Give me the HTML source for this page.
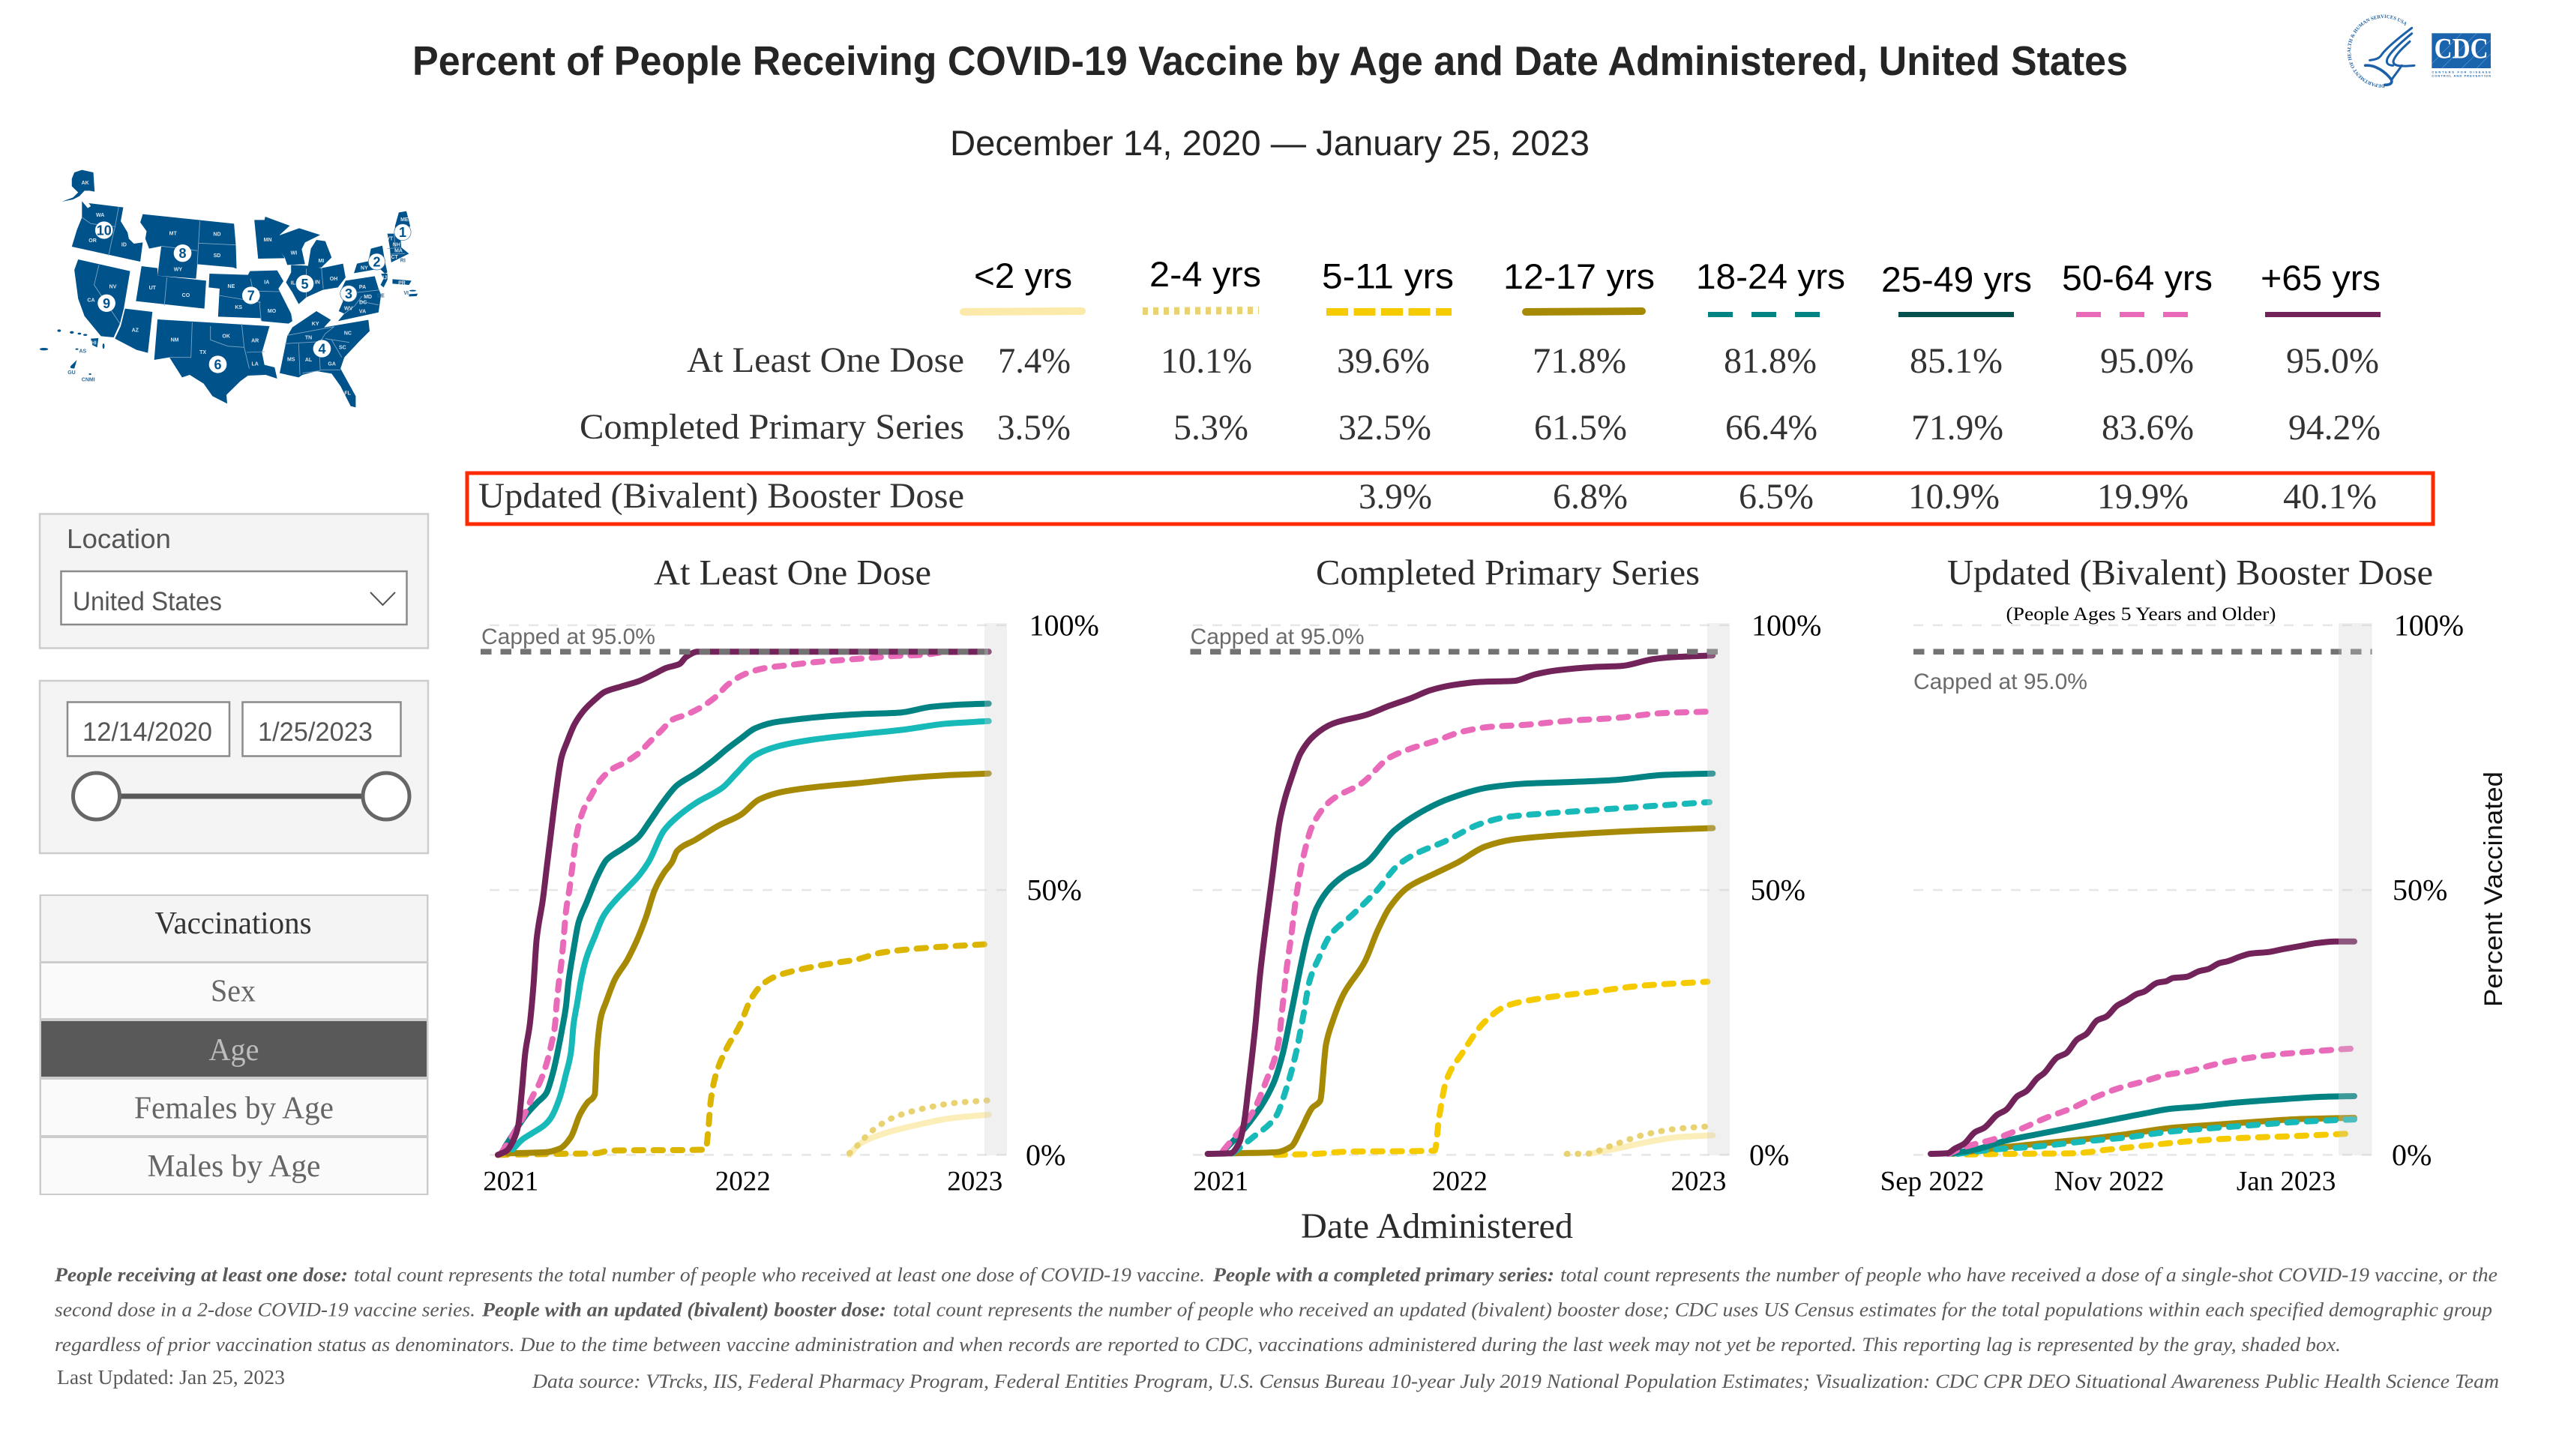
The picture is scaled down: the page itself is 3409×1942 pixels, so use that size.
<!DOCTYPE html>
<html lang="en">
<head>
<meta charset="utf-8">
<title>Percent of People Receiving COVID-19 Vaccine by Age and Date Administered, United States</title>
<style>
html,body{margin:0;padding:0;background:#fff;width:3409px;height:1942px;overflow:hidden}
svg{display:block}
text{white-space:pre}
.sans{font-family:"Liberation Sans",sans-serif}
.serif{font-family:"Liberation Serif",serif}
.val{font-family:"Liberation Serif",serif;font-size:48px;fill:#333}
.leg{font-family:"Liberation Sans",sans-serif;font-size:47px;fill:#000}
.foot{font-family:"Liberation Serif",serif;font-size:26px;fill:#595959;font-style:italic}
.footb{font-family:"Liberation Serif",serif;font-size:26px;fill:#595959;font-style:italic;font-weight:bold}
.ctitle{font-family:"Liberation Serif",serif;font-size:48px;fill:#2b2b2b}
.tab{font-family:"Liberation Serif",serif;font-size:42px;fill:#666}
</style>
</head>
<body>
<svg id="root" xmlns="http://www.w3.org/2000/svg" width="3409" height="1942" viewBox="0 0 3409 1942">
<rect width="3409" height="1942" fill="#fff"/>

<text x="550" y="100" class="sans" font-size="55" font-weight="bold" fill="#252525" textLength="2288" lengthAdjust="spacingAndGlyphs">Percent of People Receiving COVID-19 Vaccine by Age and Date Administered, United States</text>
<text x="1267" y="207" class="sans" font-size="47" fill="#252525" textLength="853" lengthAdjust="spacingAndGlyphs">December 14, 2020 — January 25, 2023</text>

<!-- logos -->
<g transform="translate(3050,0) scale(0.3333)">
  <defs><path id="hhsArc" d="M392,338 A133,133 0 1 1 470,100"/></defs>
  <text font-family="Liberation Serif,serif" font-size="20" fill="#1e62a8" font-weight="bold"><textPath href="#hhsArc">DEPARTMENT OF HEALTH &amp; HUMAN SERVICES USA</textPath></text>
  <g fill="none" stroke="#1b60a8" stroke-width="9" stroke-linecap="round">
    <path d="M500,112 C450,150 402,190 382,215 C372,232 360,238 332,241"/>
    <path d="M500,134 C450,175 412,212 402,235 C396,252 405,262 425,262"/>
    <path d="M492,166 C460,195 432,222 426,245 C425,262 445,268 510,262"/>
    <path d="M314,262 C352,258 392,285 418,318 C424,334 412,340 392,340" stroke-width="11"/>
    <path d="M460,262 C445,285 432,300 420,318" />
  </g>
</g>
<g transform="translate(3050,0) scale(0.3333)">
  <rect x="580" y="133" width="236" height="140" fill="#1a64ad"/>
  <g stroke="#5f97cf" stroke-width="2"><path d="M580,255 L700,133M620,273 L760,133M700,273 L816,160M760,273 L816,215"/></g>
  <text x="590" y="232" font-family="Liberation Serif,serif" font-weight="bold" font-size="118" fill="#fff" textLength="216" lengthAdjust="spacingAndGlyphs">CDC</text>
  <text x="580" y="292" font-family="Liberation Sans,sans-serif" font-weight="bold" font-size="12" fill="#1a64ad" textLength="236">CENTERS FOR DISEASE</text>
  <text x="580" y="308" font-family="Liberation Sans,sans-serif" font-weight="bold" font-size="12" fill="#1a64ad" textLength="236">CONTROL AND PREVENTION</text>
</g>

<!-- HHS region map -->
<g id="usMap">
<g transform="translate(40,215) scale(0.33807,0.33333)" fill="#00528b" stroke="none">
  <polygon points="175,45 205,35 250,45 255,122 235,118 215,118 195,140 170,153 125,162 170,145 190,125 165,100 165,70"/>
  <polygon points="205,160 228,188 240,180 232,168 368,185 358,240 385,285 390,310 410,330 445,325 435,402 165,342 185,275 205,225"/>
  <polygon points="445,212 805,250 812,335 815,430 800,425 660,412 655,470 503,458 518,340 470,350 455,310 460,280 435,245"/>
  <polygon points="440,420 503,428 503,458 695,478 688,590 418,560"/>
  <polygon points="885,235 925,235 928,222 1025,258 985,295 975,340 1005,388 900,390"/>
  <polygon points="975,300 1062,268 1145,295 1085,325 1072,352 1085,412 1015,415 1005,385 975,345"/>
  <polygon points="1130,315 1165,320 1190,385 1150,425 1095,430 1108,350"/>
  <polygon points="1030,415 1090,418 1150,428 1235,410 1245,465 1215,505 1155,515 1090,545 1060,572 1035,525 1010,485 1030,445"/>
  <polygon points="708,450 860,455 868,440 975,437 1000,480 980,510 1030,610 1035,640 1020,650 915,640 910,628 742,622 748,510 705,505"/>
  <polygon points="190,393 395,440 370,590 355,650 330,705 280,700 215,620 190,550 175,435"/>
  <polygon points="375,590 483,603 465,767 420,755 335,710 358,660"/>
  <polygon points="503,633 945,660 915,765 925,815 965,825 975,870 930,855 860,858 830,880 775,935 778,970 720,940 685,890 630,855 600,865 550,785 490,795"/>
  <polygon points="1130,600 1187,635 1160,665 1335,635 1340,680 1300,720 1240,785 1225,830 1285,940 1285,985 1265,980 1225,900 1190,850 1130,840 1075,855 1060,865 985,848 1015,700 1035,665"/>
  <polygon points="1245,478 1360,460 1375,510 1385,535 1375,605 1215,640 1240,610 1218,600 1235,560 1225,520"/>
  <polygon points="1278,448 1290,410 1335,400 1345,350 1390,338 1400,400 1410,445 1400,450 1380,430"/>
  <polygon points="1385,450 1410,450 1410,475 1395,505 1383,495 1395,470"/>
  <polygon points="1455,205 1485,200 1500,260 1470,300 1440,285 1440,260"/>
  <polygon points="1410,290 1460,290 1465,345 1495,370 1425,405 1420,350"/>
  <polygon points="1430,472 1505,478 1495,495 1430,490"/>
  <polygon points="1495,532 1530,530 1525,540 1495,541"/>
  <polygon points="240,710 270,708 265,745 245,735"/>
  <polygon points="160,820 185,795 175,830 160,828"/>
  <g>
    <ellipse cx="115" cy="678" rx="7" ry="5"/><ellipse cx="165" cy="685" rx="8" ry="5"/><ellipse cx="195" cy="690" rx="7" ry="4"/><ellipse cx="218" cy="695" rx="8" ry="4"/><ellipse cx="55" cy="752" rx="17" ry="5"/><ellipse cx="185" cy="752" rx="6" ry="3"/><ellipse cx="290" cy="740" rx="4" ry="11"/><ellipse cx="237" cy="852" rx="5" ry="3"/><ellipse cx="1510" cy="518" rx="14" ry="3"/>
  </g>
  <g fill="none" stroke="#7ea6c6" stroke-width="2.6">
    <path d="M205,225 L240,250 L335,262M350,183 L335,265 L322,320 L310,378M670,240 L660,412M665,328 L812,335M518,340 L660,358M540,465 L530,578M1090,430 L1090,545M1150,428 L1157,510M745,537 L910,565M870,470 L880,520 L985,522M905,560 L912,640M272,415 L253,495 L355,650M640,645 L635,785 L550,785M712,660 L712,715 L780,740 L845,745 L865,830M835,650 L845,745M855,765 L925,762M1015,697 L1200,662M1005,730 L1145,722M1060,730 L1065,855M1140,725 L1145,835 L1225,835M1145,722 L1165,690 L1200,662M1165,710 L1260,725M1190,715 L1230,785M1075,848 L1145,838M1250,530 L1380,515M1240,610 L1280,580 L1310,540M1300,560 L1375,575M1410,350 L1465,345M1420,372 L1480,370M1437,290 L1440,350"/>
  </g>
  <g fill="#fff">
    <ellipse cx="292" cy="276" rx="35" ry="35"/><ellipse cx="602" cy="368" rx="35" ry="35"/><ellipse cx="302" cy="568" rx="35" ry="35"/><ellipse cx="741" cy="813" rx="35" ry="35"/><ellipse cx="872" cy="537" rx="35" ry="35"/><ellipse cx="1152" cy="750" rx="35" ry="35"/><ellipse cx="1084" cy="490" rx="35" ry="35"/>
    <ellipse cx="1257" cy="530" rx="33" ry="33" stroke="#2f6f9f" stroke-width="2"/><ellipse cx="1368" cy="402" rx="33" ry="33" stroke="#2f6f9f" stroke-width="2"/><ellipse cx="1470" cy="284" rx="33" ry="33" stroke="#2f6f9f" stroke-width="2"/>
  </g>
</g>
<g id="mapLabels"></g>
</g>

<!-- legend -->
<g>
<text x="1299" y="384" class="leg" textLength="131" lengthAdjust="spacingAndGlyphs">&lt;2 yrs</text>
<text x="1533" y="382" class="leg" textLength="149" lengthAdjust="spacingAndGlyphs">2-4 yrs</text>
<text x="1763" y="384.5" class="leg" textLength="176" lengthAdjust="spacingAndGlyphs">5-11 yrs</text>
<text x="2005" y="385" class="leg" textLength="202" lengthAdjust="spacingAndGlyphs">12-17 yrs</text>
<text x="2262" y="385" class="leg" textLength="199" lengthAdjust="spacingAndGlyphs">18-24 yrs</text>
<text x="2509" y="389" class="leg" textLength="201" lengthAdjust="spacingAndGlyphs">25-49 yrs</text>
<text x="2750" y="387" class="leg" textLength="201" lengthAdjust="spacingAndGlyphs">50-64 yrs</text>
<text x="3015" y="387" class="leg" textLength="160" lengthAdjust="spacingAndGlyphs">+65 yrs</text>
<line x1="1285" x2="1443" y1="416" y2="415" stroke="#fbeaa9" stroke-width="10" stroke-linecap="round"/>
<line x1="1524" x2="1679" y1="415" y2="414" stroke="#e9d272" stroke-width="10" stroke-dasharray="7 7"/>
<line x1="1769" x2="1936" y1="416" y2="416" stroke="#f5cb00" stroke-width="10" stroke-dasharray="29 7.5"/>
<line x1="2035" x2="2190" y1="416" y2="415" stroke="#a68a06" stroke-width="10" stroke-linecap="round"/>
<line x1="2278" x2="2429" y1="419.5" y2="419.5" stroke="#018384" stroke-width="7" stroke-dasharray="33 25"/>
<line x1="2532" x2="2686" y1="419.5" y2="419.5" stroke="#03504f" stroke-width="7"/>
<line x1="2769" x2="2919" y1="419.5" y2="419.5" stroke="#e86ab8" stroke-width="7" stroke-dasharray="33 25"/>
<line x1="3021" x2="3175" y1="419.5" y2="419.5" stroke="#72235a" stroke-width="7"/>
</g>

<!-- summary table -->
<g>
<text x="916" y="496" class="val" textLength="370" lengthAdjust="spacingAndGlyphs">At Least One Dose</text>
<text x="773" y="585" class="val" textLength="513" lengthAdjust="spacingAndGlyphs">Completed Primary Series</text>
<text x="638" y="677" class="val" textLength="648" lengthAdjust="spacingAndGlyphs">Updated (Bivalent) Booster Dose</text>

<text x="1331" y="497" class="val" textLength="97" lengthAdjust="spacingAndGlyphs">7.4%</text>
<text x="1548" y="497" class="val" textLength="122" lengthAdjust="spacingAndGlyphs">10.1%</text>
<text x="1783" y="497" class="val" textLength="124" lengthAdjust="spacingAndGlyphs">39.6%</text>
<text x="2044" y="497" class="val" textLength="125" lengthAdjust="spacingAndGlyphs">71.8%</text>
<text x="2299" y="497" class="val" textLength="124" lengthAdjust="spacingAndGlyphs">81.8%</text>
<text x="2547" y="497" class="val" textLength="124" lengthAdjust="spacingAndGlyphs">85.1%</text>
<text x="2801" y="497" class="val" textLength="125" lengthAdjust="spacingAndGlyphs">95.0%</text>
<text x="3049" y="497" class="val" textLength="124" lengthAdjust="spacingAndGlyphs">95.0%</text>

<text x="1330" y="586" class="val" textLength="98" lengthAdjust="spacingAndGlyphs">3.5%</text>
<text x="1565" y="586" class="val" textLength="100" lengthAdjust="spacingAndGlyphs">5.3%</text>
<text x="1785" y="586" class="val" textLength="124" lengthAdjust="spacingAndGlyphs">32.5%</text>
<text x="2046" y="586" class="val" textLength="124" lengthAdjust="spacingAndGlyphs">61.5%</text>
<text x="2301" y="586" class="val" textLength="123" lengthAdjust="spacingAndGlyphs">66.4%</text>
<text x="2549" y="586" class="val" textLength="123" lengthAdjust="spacingAndGlyphs">71.9%</text>
<text x="2803" y="586" class="val" textLength="123" lengthAdjust="spacingAndGlyphs">83.6%</text>
<text x="3052" y="586" class="val" textLength="123" lengthAdjust="spacingAndGlyphs">94.2%</text>

<text x="1812" y="678" class="val" textLength="98" lengthAdjust="spacingAndGlyphs">3.9%</text>
<text x="2071" y="678" class="val" textLength="100" lengthAdjust="spacingAndGlyphs">6.8%</text>
<text x="2319" y="678" class="val" textLength="100" lengthAdjust="spacingAndGlyphs">6.5%</text>
<text x="2545" y="678" class="val" textLength="122" lengthAdjust="spacingAndGlyphs">10.9%</text>
<text x="2797" y="678" class="val" textLength="122" lengthAdjust="spacingAndGlyphs">19.9%</text>
<text x="3045" y="678" class="val" textLength="125" lengthAdjust="spacingAndGlyphs">40.1%</text>
<rect x="623" y="631" width="2622" height="68" fill="none" stroke="#ff2a00" stroke-width="5"/>
</g>

<!-- filters -->
<g>
<rect x="53" y="685.5" width="518" height="179" fill="#f4f4f4" stroke="#cccccc" stroke-width="2.5"/>
<rect x="81.5" y="762" width="461" height="71" fill="#fff" stroke="#8a8a8a" stroke-width="2.5"/>
<text x="89" y="731" class="sans" font-size="36" fill="#555" textLength="139" lengthAdjust="spacingAndGlyphs">Location</text>
<text x="97" y="814" class="sans" font-size="35" fill="#555" textLength="199" lengthAdjust="spacingAndGlyphs">United States</text>
<polyline points="494,790 510.5,807 527,790" fill="none" stroke="#555" stroke-width="2"/>
</g>
<g>
<rect x="53" y="908" width="518" height="230" fill="#f4f4f4" stroke="#cccccc" stroke-width="2.5"/>
<rect x="90" y="936.5" width="216" height="72" fill="#fff" stroke="#8a8a8a" stroke-width="2.5"/>
<rect x="323.5" y="936.5" width="211" height="72" fill="#fff" stroke="#8a8a8a" stroke-width="2.5"/>
<text x="110" y="988" class="sans" font-size="35" fill="#555" textLength="173" lengthAdjust="spacingAndGlyphs">12/14/2020</text>
<text x="344" y="988" class="sans" font-size="35" fill="#555" textLength="153" lengthAdjust="spacingAndGlyphs">1/25/2023</text>
<line x1="128" x2="515" y1="1062" y2="1062" stroke="#595959" stroke-width="7"/>
<circle cx="128.5" cy="1062" r="31" fill="#fff" stroke="#666" stroke-width="5"/>
<circle cx="515" cy="1062" r="31" fill="#fff" stroke="#666" stroke-width="5"/>
</g>
<g>
<rect x="52.5" y="1193" width="519" height="401" fill="#ccc"/>
<rect x="55" y="1195" width="514" height="87" fill="#f4f4f4"/>
<text x="311" y="1245" class="tab" style="fill:#333" text-anchor="middle" textLength="209" lengthAdjust="spacingAndGlyphs">Vaccinations</text>
<rect x="55" y="1285" width="514" height="73" fill="#fafafa"/>
<text x="311" y="1335.5" class="tab" text-anchor="middle" textLength="60" lengthAdjust="spacingAndGlyphs">Sex</text>
<rect x="55" y="1362" width="514" height="74" fill="#595959"/>
<text x="312" y="1414" class="tab" style="fill:#bdbdbd" text-anchor="middle" textLength="67" lengthAdjust="spacingAndGlyphs">Age</text>
<rect x="55" y="1440" width="514" height="74" fill="#fafafa"/>
<text x="312" y="1491.5" class="tab" text-anchor="middle" textLength="266" lengthAdjust="spacingAndGlyphs">Females by Age</text>
<rect x="55" y="1518" width="514" height="74" fill="#fafafa"/>
<text x="312" y="1569" class="tab" text-anchor="middle" textLength="231" lengthAdjust="spacingAndGlyphs">Males by Age</text>
</g>

<!-- chart titles -->
<text x="872" y="779.5" class="ctitle" textLength="370" lengthAdjust="spacingAndGlyphs">At Least One Dose</text>
<text x="1755" y="779.5" class="ctitle" textLength="512" lengthAdjust="spacingAndGlyphs">Completed Primary Series</text>
<text x="2597" y="779.5" class="ctitle" textLength="648" lengthAdjust="spacingAndGlyphs">Updated (Bivalent) Booster Dose</text>
<text x="2675.5" y="827" class="serif" font-size="25" fill="#000" textLength="360" lengthAdjust="spacingAndGlyphs">(People Ages 5 Years and Older)</text>

<g id="charts"></g>

<text x="1735" y="1651" class="serif" font-size="48" fill="#2b2b2b" textLength="363" lengthAdjust="spacingAndGlyphs">Date Administered</text>
<text transform="translate(3337,1343) rotate(-90)" class="sans" font-size="34" fill="#111" textLength="314" lengthAdjust="spacingAndGlyphs">Percent Vaccinated</text>

<!-- footnotes -->
<g>
<text x="73" y="1709" class="footb" textLength="391" lengthAdjust="spacingAndGlyphs">People receiving at least one dose:</text>
<text x="472" y="1709" class="foot" textLength="1135" lengthAdjust="spacingAndGlyphs">total count represents the total number of people who received at least one dose of COVID-19 vaccine.</text>
<text x="1618" y="1709" class="footb" textLength="455" lengthAdjust="spacingAndGlyphs">People with a completed primary series:</text>
<text x="2081" y="1709" class="foot" textLength="1250" lengthAdjust="spacingAndGlyphs">total count represents the number of people who have received a dose of a single-shot COVID-19 vaccine, or the</text>
<text x="73" y="1755.5" class="foot" textLength="561" lengthAdjust="spacingAndGlyphs">second dose in a 2-dose COVID-19 vaccine series.</text>
<text x="643" y="1755.5" class="footb" textLength="539" lengthAdjust="spacingAndGlyphs">People with an updated (bivalent) booster dose:</text>
<text x="1191" y="1755.5" class="foot" textLength="2133" lengthAdjust="spacingAndGlyphs">total count represents the number of people who received an updated (bivalent) booster dose; CDC uses US Census estimates for the total populations within each specified demographic group</text>
<text x="73" y="1802" class="foot" textLength="3049" lengthAdjust="spacingAndGlyphs">regardless of prior vaccination status as denominators. Due to the time between vaccine administration and when records are reported to CDC, vaccinations administered during the last week may not yet be reported. This reporting lag is represented by the gray, shaded box.</text>
<text x="76" y="1846" class="serif" font-size="27" fill="#595959" textLength="304" lengthAdjust="spacingAndGlyphs">Last Updated: Jan 25, 2023</text>
<text x="710" y="1851" class="foot" textLength="2623" lengthAdjust="spacingAndGlyphs">Data source: VTrcks, IIS, Federal Pharmacy Program, Federal Entities Program, U.S. Census Bureau 10-year July 2019 National Population Estimates; Visualization: CDC CPR DEO Situational Awareness Public Health Science Team</text>
</g>
</svg>

<script>
// ---------- Data: days since first date in the panel, and percent vaccinated ----------
// At Least One Dose (day 0 = 2020-12-14)
const oneDoseUnder2Days = [553,568,604,654,711,772];
const oneDoseUnder2Pct = [0,2,3.9,5.5,6.9,7.6];
const oneDose2to4Days = [553,564,589,625,675,718,772];
const oneDose2to4Pct = [0.3,1.6,4.6,7.2,8.9,9.8,10.3];
const oneDose5to11Days = [0,93,154,176,327,331,335,343,359,381,398,416,439,483,539,561,604,675,772];
const oneDose5to11Pct = [0,0.2,0.3,0.8,1,4.8,10.4,15.2,19.9,24.6,29.4,32.2,33.8,35.2,36.4,36.8,38.2,39.1,39.8];
const oneDose12to17Days = [15,74,97.5,115,129,141,152.5,156,162,170,184,203.5,219,233,247,262,274,282,311,346,382,411,446,496,568,639,711,772];
const oneDose12to17Pct = [0.3,0.5,1.2,3.4,7.6,9.9,11.4,19.9,26,28.8,33.1,36.8,40.6,44.9,50.1,53.4,55.3,57.4,59.5,62.1,64.2,67.1,68.5,69.4,70.2,71.1,71.7,72];
const oneDose18to24Days = [23,38.5,54,74,84,97.5,107,115,119,125,131,139,152,166,186,207,223,237,261,282,311,354,375,404,439,496,568,639,704,772];
const oneDose18to24Pct = [1,2.9,4.1,5.7,7.1,10.9,15.2,19.4,24.6,28.8,33.1,37.1,41.1,45.1,48.2,50.8,52.9,55.3,61.2,63.8,66.4,69.4,72,75.4,77.1,78.4,79.4,80.3,81.4,81.9];
const oneDose25to49Days = [11,46,62,76,86,94,101.5,107,111,119,127,139,157,171,196,221,239,261,282,311,339,361,382,404,432,468,518,568,632,682,725,772];
const oneDose25to49Pct = [1.5,7.8,9.9,11.6,15.2,19.4,24.1,27.9,32.6,38.7,43.9,47.5,52.7,55.7,57.8,60,63,66.8,69.8,72,74.5,76.7,78.6,80.5,81.6,82.2,82.8,83.2,83.5,84.6,85,85.2];
const oneDose50to64Days = [5,19,42.5,54,66,76,84,90,92,95.5,99.5,103,107,113,118,125,136,146,161,179,200,221,239,257,275,296,318,343,361,382,400,425,461,496,539,582,625,668,704,772];
const oneDose50to64Pct = [0.3,2.9,7.8,10.9,13.7,17,20.8,24.6,27.9,32.1,35.9,40.2,45.8,50.5,55.2,61.2,65.5,67.7,70.7,72.8,74.1,75.8,78,80.1,82.2,83.1,84.4,86.5,88.7,90.4,91.3,92,92.5,93,93.4,93.8,94.2,94.4,94.9,95];
const oneDose65PlusDays = [0,14,25,32,38,43,50,56,61,71,77,84,91,100,109,121,136,154,168,193,221,246,264,286,296,314,772];
const oneDose65PlusPct = [0,0.8,2.9,5.5,12.3,19.2,24.4,32,40.7,48.4,54.4,61.2,68,75,78,81.4,84,86.1,87.4,88.4,89.4,90.8,91.9,92.7,94,95,95];

// Completed Primary Series (day 0 = 2020-12-14)
const primaryUnder2Days = [583,625,667,715,772];
const primaryUnder2Pct = [0.2,1.2,2.3,3.3,3.7];
const primary2to4Days = [549,576,625,667,715,767];
const primary2to4Pct = [0.2,0.2,2.1,3.8,4.9,5.4];
const primary5to11Days = [104,167,208,347,354,365,389,424,458,507,590,660,764];
const primary5to11Pct = [0,0.2,0.6,0.8,7.2,14.1,19.2,25.2,28.2,29.5,30.8,31.9,32.7];
const primary12to17Days = [35,104,128,142,160,172,181,191,208,240,260,278,306,347,382,424,465,556,660,772];
const primary12to17Pct = [0.3,0.5,1.6,4.6,8.9,10.2,20.9,25.2,30.4,36.4,42.4,46.7,50.5,53.1,55.2,58.2,59.5,60.5,61.2,61.7];
const primary18to24Days = [38,69,104,122,135,146,156,170,187.5,222,257,292,319,361,417,458,521,590,660,767];
const primary18to24Pct = [0.3,3.3,7.2,13.2,19.2,26.1,32.9,37.2,41.5,45.4,49.7,54.8,56.9,59.1,62.5,63.8,64.5,65.1,65.7,66.6];
const primary25to49Days = [21,62.5,101,115,128,142,153,167,187.5,208,243,285,319,368,431,486,556,625,694,772];
const primary25to49Pct = [0.3,5.9,13.6,19.2,26.9,35.5,41.5,46.7,50.5,52.7,55.2,61.2,64.2,67.2,69.4,70.1,70.4,70.8,71.7,72];
const primary50to64Days = [24,69,90,108,115,122,128,135,146,160,187.5,236,278,312.5,347,389,431,486,556,625,694,767];
const primary50to64Pct = [0.8,8.1,14.1,20.9,28.6,36.4,41.5,48.4,56.1,62.1,66.8,70.2,75,76.8,78.1,79.9,80.8,81.2,82,82.5,83.4,83.7];
const primary65PlusDays = [0,35,49,56,62,73,80,90,99,110,118,128,142,163,191,243,278,312.5,340,375,417,469,500,535,590,632,681,715,772];
const primary65PlusPct = [0.2,0.3,2.5,6.3,12.3,24.4,33.8,44.1,52.7,62.9,67.2,71.1,75.8,79.2,81.4,83.1,84.8,86.3,87.7,88.7,89.3,89.5,90.7,91.5,92.1,92.3,93.6,94,94.3];

// Updated (Bivalent) Booster Dose (day 0 = 2022-09-01)
const booster5to11Days = [12.3,29.1,49,61.3,76.6,91.9,107.2,122.5,144];
const booster5to11Pct = [0.1,0.2,0.3,1,1.9,2.7,3.2,3.5,4];
const booster12to17Days = [7.7,21.4,36.8,52.1,67.4,82.7,98,113.3,128.6,146];
const booster12to17Pct = [0.2,1.2,2.1,2.9,3.9,5.1,5.7,6.3,6.8,7];
const booster18to24Days = [9.2,21.4,36.8,52.1,67.4,82.7,98,113.3,128.6,146];
const booster18to24Pct = [0.2,1,1.6,2.5,3.3,4.4,5.1,5.7,6.3,6.7];
const booster25to49Days = [6.1,15.3,26,36.8,49,61.3,73.5,82.7,91.9,105.7,121,136.3,146];
const booster25to49Pct = [0.2,1,2.7,3.9,5.2,6.5,7.8,8.7,9.1,9.9,10.5,11,11.1];
const booster50to64Days = [6.1,12.3,21.4,30.6,39.8,49,55.1,64.3,73.5,81.2,88.8,98,107.2,116.4,128.6,137.8,146];
const booster50to64Pct = [0.2,1.6,2.9,4.8,7,8.9,10.5,12.5,13.9,15.1,15.8,17.1,18.1,18.8,19.4,19.8,20.1];
const booster65PlusDays = [0,5.7,8.4,11.5,15.3,18.4,23,26,29.9,32.9,36.8,39,43.6,46.7,50.5,53.6,57.4,60.5,64.3,67.4,71.2,73.5,78.1,81.2,83.5,88,92.6,95.7,99.5,102.6,106.4,110.3,116.4,121,127.1,133.2,139.4,146];
const booster65PlusPct = [0.2,0.3,1.2,2.1,4.3,5.1,7.6,8.5,11.1,12,14.5,15.4,18.4,19.2,21.8,22.8,25.4,26.1,28.2,29.1,30.4,30.8,32.5,32.8,33.4,33.6,34.7,35.1,36.2,36.6,37.4,38,38.3,38.8,39.4,40,40.3,40.3];

// Axis data
const yTickValues = [0,50,100];
const yTickLabels = ['0%','50%','100%'];
const capValue = 95;
const capLabel = 'Capped at 95.0%';
const yearTickDays = [18,383,748];
const yearTickLabels = ['2021','2022','2023'];
const boosterTickDays = [0,61,122];
const boosterTickLabels = ['Sep 2022','Nov 2022','Jan 2023'];

// ---------- Rendering ----------
const SVG_NS = 'http://www.w3.org/2000/svg';
function svgEl(parent, tag, attrs, text) {
  const el = document.createElementNS(SVG_NS, tag);
  for (const k in attrs) el.setAttribute(k, attrs[k]);
  if (text !== undefined) el.textContent = text;
  parent.appendChild(el);
  return el;
}

const styleUnder2 = {color:'#fbeeb9', dash:null};
const style2to4 = {color:'#e9d272', dash:'1 13.5'};
const style5to11 = {color:'#f5cb00', dash:'12.5 13.5'};
const style12to17 = {color:'#a68a06', dash:null};
const style18to24 = {color:'#18b9b9', dash:null};
const style18to24Dashed = {color:'#18b9b9', dash:'12.5 13.5'};
const style25to49 = {color:'#018384', dash:null};
const style50to64 = {color:'#e86ab8', dash:'12.5 13.5'};
const style65Plus = {color:'#72235a', dash:null};

const panels = [
  {key:'one-dose', x0:664, pxPerDay:0.848, gridLeft:653, right:1343, bandLeft:1313, capLeft:641, capRight:1330,
   capLabelX:642, capLabelY:859, capLabelW:232, yLabelX:[1368,1369.5,1372.5], tickDays:yearTickDays, tickLabels:yearTickLabels, tickFont:37,
   series:[
    {age:'under-2', days:oneDoseUnder2Days, pct:oneDoseUnder2Pct, style:styleUnder2},
    {age:'2-4', days:oneDose2to4Days, pct:oneDose2to4Pct, style:style2to4},
    {age:'5-11', days:oneDose5to11Days, pct:oneDose5to11Pct, style:{color:'#dcb500', dash:style5to11.dash}},
    {age:'12-17', days:oneDose12to17Days, pct:oneDose12to17Pct, style:style12to17},
    {age:'18-24', days:oneDose18to24Days, pct:oneDose18to24Pct, style:style18to24},
    {age:'25-49', days:oneDose25to49Days, pct:oneDose25to49Pct, style:style25to49},
    {age:'50-64', days:oneDose50to64Days, pct:oneDose50to64Pct, style:style50to64},
    {age:'65-plus', days:oneDose65PlusDays, pct:oneDose65PlusPct, style:style65Plus}
   ]},
  {key:'primary-series', x0:1610.6, pxPerDay:0.8727, gridLeft:1591, right:2307, bandLeft:2277, capLeft:1587.5, capRight:2303,
   capLabelX:1587.6, capLabelY:859, capLabelW:232, yLabelX:[2333,2334.6,2336], tickDays:yearTickDays, tickLabels:yearTickLabels, tickFont:37,
   series:[
    {age:'under-2', days:primaryUnder2Days, pct:primaryUnder2Pct, style:styleUnder2},
    {age:'2-4', days:primary2to4Days, pct:primary2to4Pct, style:style2to4},
    {age:'5-11', days:primary5to11Days, pct:primary5to11Pct, style:style5to11},
    {age:'12-17', days:primary12to17Days, pct:primary12to17Pct, style:style12to17},
    {age:'18-24', days:primary18to24Days, pct:primary18to24Pct, style:style18to24Dashed},
    {age:'25-49', days:primary25to49Days, pct:primary25to49Pct, style:style25to49},
    {age:'50-64', days:primary50to64Days, pct:primary50to64Pct, style:style50to64},
    {age:'65-plus', days:primary65PlusDays, pct:primary65PlusPct, style:style65Plus}
   ]},
  {key:'booster', x0:2575, pxPerDay:3.87, gridLeft:2552, right:3163.6, bandLeft:3119, capLeft:2552, capRight:3163.6,
   capLabelX:2552, capLabelY:919, capLabelW:232, yLabelX:[3190,3191,3192.7], tickDays:boosterTickDays, tickLabels:boosterTickLabels, tickFont:37,
   series:[
    {age:'5-11', days:booster5to11Days, pct:booster5to11Pct, style:style5to11},
    {age:'12-17', days:booster12to17Days, pct:booster12to17Pct, style:style12to17},
    {age:'18-24', days:booster18to24Days, pct:booster18to24Pct, style:style18to24Dashed},
    {age:'25-49', days:booster25to49Days, pct:booster25to49Pct, style:style25to49},
    {age:'50-64', days:booster50to64Days, pct:booster50to64Pct, style:style50to64},
    {age:'65-plus', days:booster65PlusDays, pct:booster65PlusPct, style:style65Plus}
   ]}
];

function yScale(pct) { return 1540.4 - 7.065 * pct; }
function xScale(panel, day) { return panel.x0 + panel.pxPerDay * day; }

// Monotone cubic path through the data points, so curves stay smooth without overshoot.
function linePath(panel, days, pct) {
  const xs = days.map(d => xScale(panel, d));
  const ys = pct.map(yScale);
  const n = xs.length;
  const h = [], s = [];
  for (let i = 0; i < n - 1; i++) {
    h.push(xs[i + 1] - xs[i]);
    s.push((ys[i + 1] - ys[i]) / h[i]);
  }
  const m = new Array(n).fill(0);
  m[0] = s[0];
  m[n - 1] = s[n - 2];
  for (let i = 1; i < n - 1; i++) {
    if (s[i - 1] * s[i] > 0) {
      const w1 = 2 * h[i] + h[i - 1];
      const w2 = h[i] + 2 * h[i - 1];
      m[i] = (w1 + w2) / (w1 / s[i - 1] + w2 / s[i]);
    }
  }
  let d = 'M' + xs[0].toFixed(1) + ',' + ys[0].toFixed(1);
  for (let i = 0; i < n - 1; i++) {
    const c1x = xs[i] + h[i] / 3;
    const c1y = ys[i] + m[i] * h[i] / 3;
    const c2x = xs[i + 1] - h[i] / 3;
    const c2y = ys[i + 1] - m[i + 1] * h[i] / 3;
    d += ' C' + c1x.toFixed(1) + ',' + c1y.toFixed(1) + ' ' + c2x.toFixed(1) + ',' + c2y.toFixed(1) + ' ' + xs[i + 1].toFixed(1) + ',' + ys[i + 1].toFixed(1);
  }
  return d;
}

const chartsRoot = document.getElementById('charts');
panels.forEach(panel => {
  const g = svgEl(chartsRoot, 'g', {});
  
  

  yTickValues.forEach((v, i) => {
    const grid = svgEl(g, 'line', {x1:panel.gridLeft, x2:panel.right, y1:yScale(v), y2:yScale(v), stroke:'#e6e6e6', 'stroke-width':2.5, 'stroke-dasharray':'13 13'});
    
    
    const label = svgEl(g, 'text', {x:panel.yLabelX[i], y:yScale(v) + 13.5, 'font-family':'"Liberation Serif",serif', 'font-size':40, fill:'#000'}, yTickLabels[i]);
    
    
  });

  panel.tickDays.forEach((d, i) => {
    const tick = svgEl(g, 'text', {x:xScale(panel, d) + 2, y:1587.5, 'text-anchor':'middle', 'font-family':'"Liberation Serif",serif', 'font-size':panel.tickFont, fill:'#000'}, panel.tickLabels[i]);
    
    
  });

  panel.series.forEach(s => {
    const attrs = {d:linePath(panel, s.days, s.pct), fill:'none', stroke:s.style.color, 'stroke-width':8, 'stroke-linecap':'round', 'stroke-linejoin':'round'};
    if (s.style.dash) attrs['stroke-dasharray'] = s.style.dash;
    const line = svgEl(g, 'path', attrs);
    
    
  });

  const cap = svgEl(g, 'line', {x1:panel.capLeft, x2:panel.capRight, y1:yScale(capValue), y2:yScale(capValue), stroke:'#737373', 'stroke-width':7.5, 'stroke-dasharray':'14.5 12'});
  
  
  const capText = svgEl(g, 'text', {x:panel.capLabelX, y:panel.capLabelY, 'font-family':'"Liberation Sans",sans-serif', 'font-size':30, fill:'#6b6b6b', textLength:panel.capLabelW, lengthAdjust:'spacingAndGlyphs'}, capLabel);
  
  

  const band = svgEl(g, 'rect', {x:panel.bandLeft, y:831, width:panel.right - panel.bandLeft, height:710, fill:'rgb(205,205,205)', 'fill-opacity':0.3});
  
  
});

// ---------- Map labels ----------
function mapX(z) { return 40 + z / 2.958; }
function mapY(z) { return 215 + z / 3; }
const regionNumbers = [['10',292,276],['8',602,368],['9',302,568],['6',741,813],['7',872,537],['4',1152,750],['5',1084,490],['3',1257,530],['2',1368,402],['1',1470,284]];
const stateCodes = [['AK',218,84],['WA',277,213],['OR',247,315],['ID',371,331],['MT',564,287],['ND',738,289],['SD',738,375],['WY',584,430],['UT',483,504],['CO',615,534],['NV',327,500],['CA',241,553],['AZ',415,673],['NM',571,712],['TX',682,762],['OK',774,698],['AR',888,716],['LA',888,808],['NE',794,498],['KS',823,582],['IA',934,482],['MO',954,597],['MN',938,312],['WI',1041,365],['MI',1149,396],['IL',1038,485],['IN',1134,482],['OH',1198,468],['KY',1126,648],['TN',1099,703],['MS',1030,790],['AL',1099,792],['GA',1191,808],['FL',1253,925],['SC',1233,743],['NC',1254,686],['VA',1312,598],['WV',1256,587],['PA',1312,501],['NY',1319,425],['ME',1477,231],['VT',1419,308],['NH',1446,331],['MA',1454,355],['CT',1438,381],['PR',1467,484],['DC',1314,562],['MD',1333,540],['NJ',1395,463],['HI',252,725]];
const outsideCodes = [['RI',1471,394],['DE',1384,536],['VI',1484,525],['AS',208,757],['GU',164,843],['CNMI',230,872]];
const mapLabelGroup = document.getElementById('mapLabels');
regionNumbers.forEach(r => {
  const t = svgEl(mapLabelGroup, 'text', {x:mapX(r[1]), y:mapY(r[2]) + 6.5, 'text-anchor':'middle', 'font-family':'"Liberation Sans",sans-serif', 'font-size':18, 'font-weight':'bold', fill:'#00528b'}, r[0]);
  
  
});
stateCodes.forEach(s => {
  const t = svgEl(mapLabelGroup, 'text', {x:mapX(s[1]), y:mapY(s[2]) + 3, 'text-anchor':'middle', 'font-family':'"Liberation Sans",sans-serif', 'font-size':7, 'font-weight':'bold', fill:'#fff', 'fill-opacity':0.85}, s[0]);
  
  
});
outsideCodes.forEach(s => {
  const t = svgEl(mapLabelGroup, 'text', {x:mapX(s[1]), y:mapY(s[2]) + 3, 'text-anchor':'middle', 'font-family':'"Liberation Sans",sans-serif', 'font-size':7, 'font-weight':'bold', fill:'#2a6c9c'}, s[0]);
  
  
});
</script>
</body>
</html>
